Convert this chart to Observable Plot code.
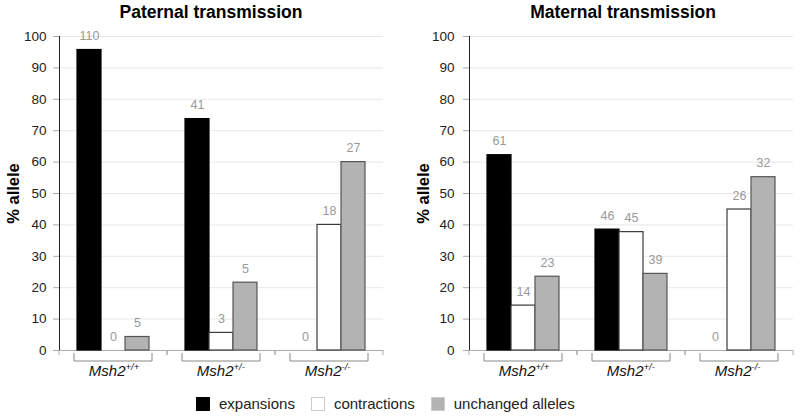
<!DOCTYPE html>
<html>
<head>
<meta charset="utf-8">
<script src="https://cdn.jsdelivr.net/npm/d3@7"></script>
<script src="https://cdn.jsdelivr.net/npm/@observablehq/plot@0.6"></script>
<style>
  body { margin: 0; background: #fff; font-family: "Liberation Sans", Arial, sans-serif; }
  #wrap { position: relative; width: 800px; height: 418px; overflow: hidden; background: #fff; }
  .title { position: absolute; top: 0; width: 400px; height: 24px; line-height: 24px; text-align: center; font-size: 17.5px; font-weight: bold; color: #000; }
  .panel { position: absolute; top: 24px; }
  #legend { position: absolute; top: 396px; left: 196px; display: flex; align-items: center; font-size: 15px; color: #222; }
  #legend .sw { width: 14px; height: 14px; box-sizing: border-box; margin-right: 9px; }
  #legend .item { display: flex; align-items: center; margin-right: 16px; height: 15px; }
  g[aria-label="y-axis label"] text { font-weight: bold; font-size: 16.5px; fill: #000; }
  g[aria-label="y-axis tick label"] { font-size: 13.5px; }
  g[aria-label="y-axis tick label"] text { font-size: 13.5px; fill: #222; }
  g[aria-label="y-axis tick"] path { stroke: #aaa; }
  g[aria-label="y-grid"] { stroke: #dcdcdc; stroke-opacity: 1; }
  g[aria-label="frame"] { stroke: #aaa; }
</style>
</head>
<body>
<div id="wrap">
  <div class="title" style="left:11px">Paternal transmission</div>
  <div class="title" style="left:423px">Maternal transmission</div>
  <div id="left" class="panel" style="left:0"></div>
  <div id="right" class="panel" style="left:400px"></div>
  <div id="legend"></div>
</div>
<script>
// ---- data ----
const gene = "Msh2";
const genotypes = ["+/+", "+/-", "-/-"];
const types = ["expansions", "contractions", "unchanged alleles"];
const yTicks = [0, 10, 20, 30, 40, 50, 60, 70, 80, 90, 100];
// percent of alleles, rows = genotypes, columns = types
const paternalPct = [[95.7, 0, 4.3], [73.7, 5.6, 21.6], [0, 40.0, 60.0]];
const paternalN   = [[110, 0, 5], [41, 3, 5], [0, 18, 27]];
const maternalPct = [[62.2, 14.3, 23.5], [38.5, 37.7, 24.4], [0, 44.9, 55.2]];
const maternalN   = [[61, 14, 23], [46, 45, 39], [0, 26, 32]];

// ---- styles ----
const fills = {"expansions": "#000000", "contractions": "#ffffff", "unchanged alleles": "#b3b3b3"};
const strokes = {"expansions": "#000000", "contractions": "#3a3a3a", "unchanged alleles": "#555555"};

function rowsOf(pct, n) {
  const rows = [];
  genotypes.forEach((g, i) => types.forEach((t, j) => rows.push({genotype: g, type: t, pct: pct[i][j], n: n[i][j]})));
  return rows;
}

function decor(index, scales, values, dimensions) {
  const {x, y} = scales;
  const y0 = y(0);
  const left = dimensions.marginLeft, right = dimensions.width - dimensions.marginRight;
  const bw = x.bandwidth();
  const bx0 = x(types[0]) - 3, bx1 = x(types[types.length - 1]) + bw + 3;
  const g = d3.create("svg:g").attr("fill", "none");
  g.append("path").attr("stroke", "#aaa").attr("d", `M${left},${y0}V${y0 + 5}M${right},${y0}V${y0 + 5}`);
  g.append("path").attr("stroke", "#888").attr("d", `M${bx0},${y0 + 3}V${y0 + 11}H${bx1}V${y0 + 3}`);
  return g.node();
}

function panel(pct, n, marginLeft, marginRight, tickPadding) {
  const rows = rowsOf(pct, n);
  return Plot.plot({
    width: 400,
    height: 362,
    marginTop: 12,
    marginBottom: 36,
    marginLeft,
    marginRight,
    style: {fontFamily: "'Liberation Sans', Arial, sans-serif", fontSize: "13px", color: "#222", background: "#fff"},
    fx: {domain: genotypes, padding: 0, axis: null},
    x: {domain: types, paddingInner: 0, paddingOuter: 0.727, axis: null},
    y: {domain: [0, 100], ticks: yTicks, grid: true, line: true, tickSize: 6, tickPadding,
        label: "% allele", labelAnchor: "center", labelOffset: 52, labelArrow: false},
    color: {type: "identity"},
    marks: [
      Plot.ruleY([0], {stroke: "#aaa"}),
      Plot.barY(rows.filter(d => d.pct > 0), {
        fx: "genotype", x: "type", y: "pct",
        fill: d => fills[d.type], stroke: d => strokes[d.type], strokeWidth: 1.2
      }),
      Plot.text(rows, {fx: "genotype", x: "type", y: "pct", text: d => String(d.n),
        dy: -14, fill: "#999", fontSize: 12.5}),
      decor,
      Plot.text(genotypes, {fx: d => d, text: () => gene, frameAnchor: "bottom", dy: 25,
        textAnchor: "end", dx: 12, fontStyle: "italic", fontSize: 15, fill: "#111"}),
      Plot.text(genotypes, {fx: d => d, text: d => d, frameAnchor: "bottom", dy: 19,
        textAnchor: "start", dx: 12, fontStyle: "italic", fontSize: 9.5, fill: "#111"})
    ]
  });
}

document.getElementById("left").appendChild(panel(paternalPct, paternalN, 58, 16, 7));
document.getElementById("right").appendChild(panel(maternalPct, maternalN, 68, 6, 9));

const legend = document.getElementById("legend");
types.forEach(t => {
  const item = document.createElement("div");
  item.className = "item";
  const sw = document.createElement("div");
  sw.className = "sw";
  sw.style.background = fills[t];
  sw.style.border = "1px solid " + (t === "expansions" ? "#000" : "#ccc");
  const lab = document.createElement("span");
  lab.textContent = t;
  item.appendChild(sw);
  item.appendChild(lab);
  legend.appendChild(item);
});
</script>
</body>
</html>
